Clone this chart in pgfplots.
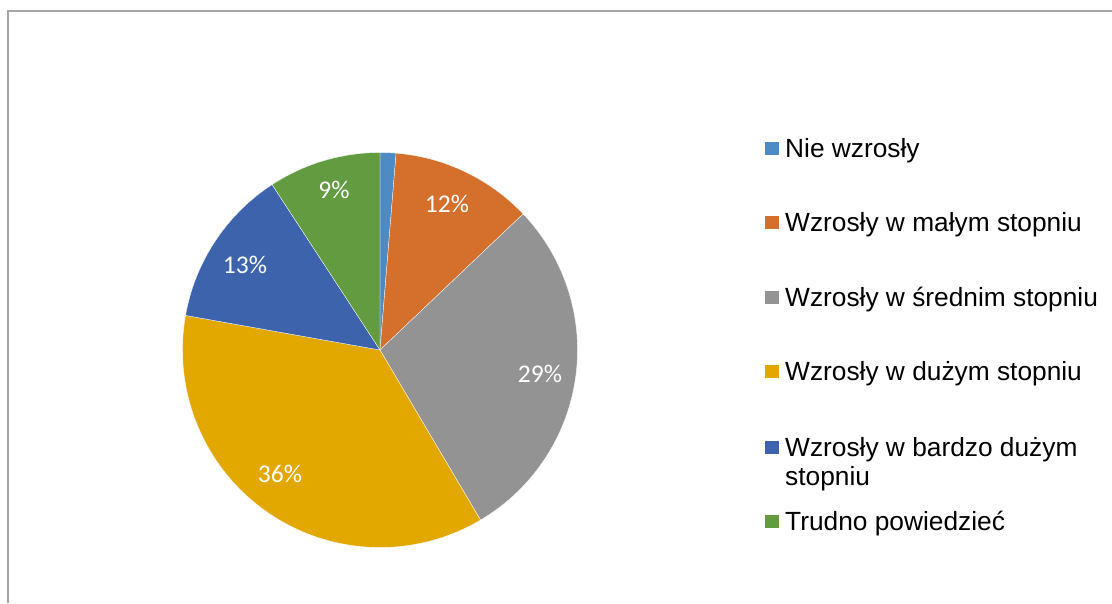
\documentclass[border=0pt]{standalone}
\usepackage{pgfplots}
\pgfplotsset{compat=1.18}
\usepackage{fontspec}
\setmainfont{Liberation Sans}
\newfontfamily\calibri{Carlito}
\definecolor{cA}{HTML}{4E8AC4}
\definecolor{cB}{HTML}{D4702C}
\definecolor{cC}{HTML}{939393}
\definecolor{cD}{HTML}{E2A800}
\definecolor{cE}{HTML}{3C63AC}
\definecolor{cF}{HTML}{639B40}
\definecolor{frame}{HTML}{A6A6A6}
% shares (percent)
\def\vA{1.3}\def\vB{11.6}\def\vC{28.6}\def\vD{36.3}\def\vE{13.0}\def\vF{9.2}
\pgfmathsetmacro\aA{90}
\pgfmathsetmacro\aB{\aA-3.6*\vA}
\pgfmathsetmacro\aC{\aB-3.6*\vB}
\pgfmathsetmacro\aD{\aC-3.6*\vC}
\pgfmathsetmacro\aE{\aD-3.6*\vD}
\pgfmathsetmacro\aF{\aE-3.6*\vE}
\pgfmathsetmacro\aG{\aF-3.6*\vF}
\newcommand{\slice}[3]{%
  \addplot[fill=#1, draw=white, line width=0.3pt, domain=#3:#2, samples=100, variable=\t]
    ({380+197.5*cos(\t)},{350-197.5*sin(\t)}) -- (axis cs:380,350) -- cycle;}
\begin{document}
\begin{tikzpicture}
\begin{axis}[width=1112pt, height=603pt, scale only axis,
  xmin=0, xmax=1112, ymin=0, ymax=603, y dir=reverse,
  hide axis, clip=false]
\draw[color=frame, line width=1.5pt] (axis cs:8,603) -- (axis cs:8,11) -- (axis cs:1112,11);
\slice{cA}{\aA}{\aB}
\slice{cB}{\aB}{\aC}
\slice{cC}{\aC}{\aD}
\slice{cD}{\aD}{\aE}
\slice{cE}{\aE}{\aF}
\slice{cF}{\aF}{\aG}
\begin{scope}[every node/.style={text=white, font=\calibri\fontsize{25.5}{29}\selectfont}]
\node at (axis cs:447,204) {12\%};
\node at (axis cs:540,374) {29\%};
\node at (axis cs:280,474) {36\%};
\node at (axis cs:245,265) {13\%};
\node at (axis cs:334,190) {9\%};
\end{scope}
\begin{scope}[every node/.style={anchor=base west, inner sep=0pt, font=\fontsize{26.3}{30}\selectfont}]
\fill[cA] (axis cs:765,141.5) rectangle (axis cs:779,155);
\node at (axis cs:785,157) {Nie wzrosły};
\fill[cB] (axis cs:765,215.5) rectangle (axis cs:779,229);
\node at (axis cs:785,231) {Wzrosły w małym stopniu};
\fill[cC] (axis cs:765,290.5) rectangle (axis cs:779,304);
\node at (axis cs:785,306) {Wzrosły w średnim stopniu};
\fill[cD] (axis cs:765,364.5) rectangle (axis cs:779,378);
\node at (axis cs:785,380) {Wzrosły w dużym stopniu};
\fill[cE] (axis cs:765,440.5) rectangle (axis cs:779,454);
\node at (axis cs:785,456) {Wzrosły w bardzo dużym};
\node at (axis cs:785,485) {stopniu};
\fill[cF] (axis cs:765,514.5) rectangle (axis cs:779,528);
\node at (axis cs:785,530) {Trudno powiedzieć};
\end{scope}
\end{axis}
\pgfresetboundingbox
\path[use as bounding box] (current axis.south west) rectangle (current axis.north east);
\end{tikzpicture}
\end{document}
